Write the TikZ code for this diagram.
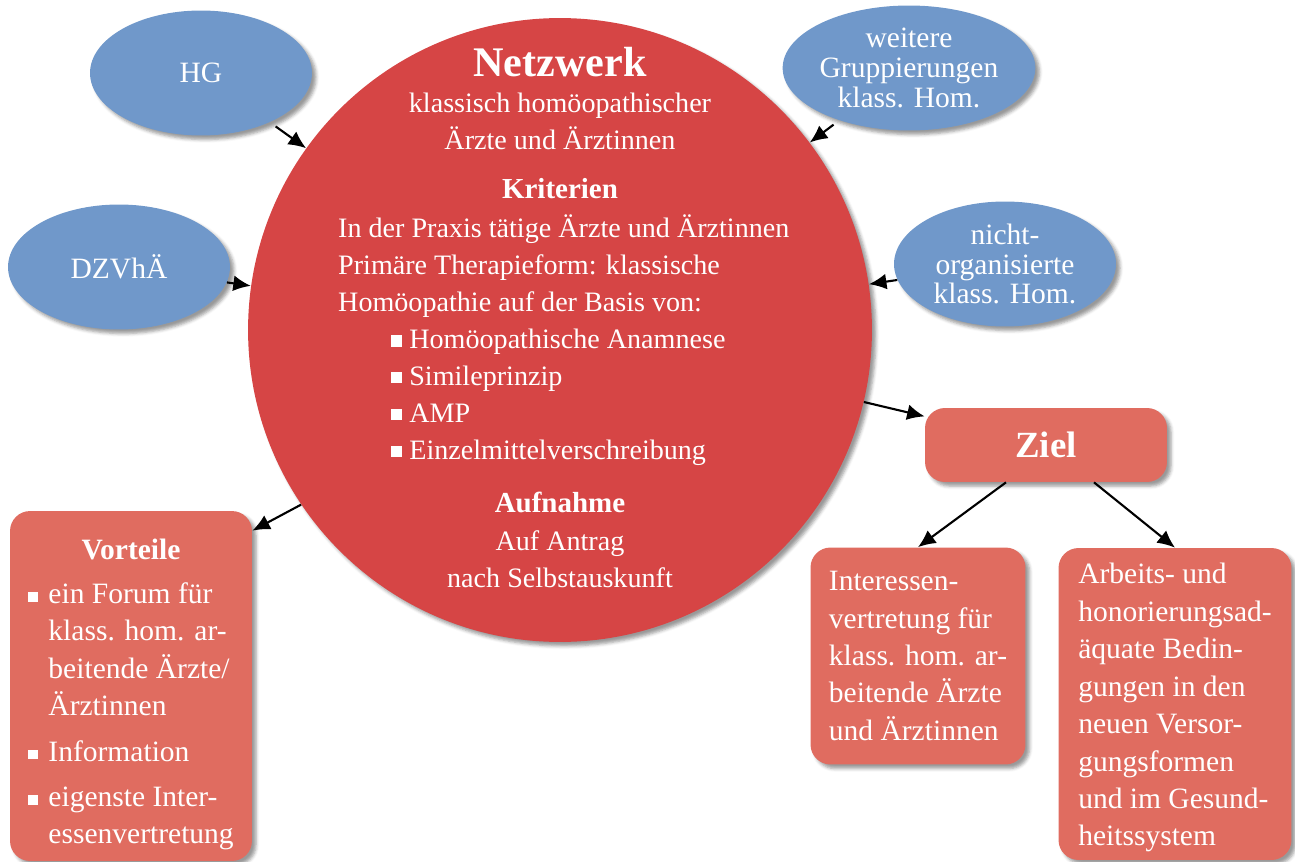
\documentclass[tikz,border=0pt]{standalone}
\usepackage{fontspec}
\setmainfont{Liberation Serif}
\usetikzlibrary{arrows.meta,positioning,shapes.geometric,shadows.blur}

\definecolor{netzrot}{HTML}{D64545}
\definecolor{kastenrot}{HTML}{E06C60}
\definecolor{gruppblau}{HTML}{7098CA}

\newcommand{\sqb}{\raisebox{1pt}{\rule{6.5pt}{6.5pt}}}
\newcommand{\sqs}{\raisebox{1pt}{\rule{5.5pt}{5.5pt}}}

\begin{document}
\begin{tikzpicture}[x=0.02cm, y=-0.02cm,
  every node/.style={text=white, font=\fontsize{16.8}{21.3}\selectfont},
  innen/.style={font=\fontsize{16}{21}\selectfont},
  kopf/.style={font=\fontsize{16.5}{21}\selectfont\bfseries},
  gruppe/.style={ellipse, fill=gruppblau, minimum width=4.44cm, minimum height=2.5cm, inner sep=0pt, align=center, blur shadow, font=\fontsize{16.8}{17}\selectfont},
  box/.style={rectangle, rounded corners=0.4cm, fill=kastenrot, blur shadow, align=left},
  arrow/.style={-{Latex[length=10pt,width=9pt]}, line width=1.2pt, black}]

\useasboundingbox (0,0) rectangle (1295,862);

% Netzwerk
\node[circle, fill=netzrot, minimum size=12.48cm, blur shadow] (net) at (560,330) {};
\node[font=\fontsize{24}{28}\selectfont\bfseries] (titel) at (560,62) {Netzwerk};
\node[innen, align=center] (netz) at (560,121) {klassisch homöopathischer\\Ärzte und Ärztinnen};
\node[kopf] (krit) at (560,189) {Kriterien};
\node[innen, align=left, anchor=west] (kritliste) at (332,340) {In der Praxis tätige Ärzte und Ärztinnen\\
  Primäre Therapieform: klassische\\
  Homöopathie auf der Basis von:\\
  \hspace*{30pt}\sqb\ Homöopathische Anamnese\\
  \hspace*{30pt}\sqb\ Simileprinzip\\
  \hspace*{30pt}\sqb\ AMP\\
  \hspace*{30pt}\sqb\ Einzelmittelverschreibung};
\node[kopf] (aufn) at (560,502) {Aufnahme};
\node[innen, align=center] (antrag) at (560,559) {Auf Antrag\\nach Selbstauskunft};

% Gruppierungen
\node[gruppe] (hg) at (201,73) {HG};
\node[gruppe] (dzvhae) at (119,267) {DZVhÄ};
\node[gruppe] (weitere) at (909,68) {weitere\\Gruppierungen\\klass. Hom.};
\node[gruppe] (nichtorg) at (1005,264) {nicht-\\organisierte\\klass. Hom.};

% Vorteile und Ziel
\node[box, minimum width=4.84cm, minimum height=6.94cm] (vorteile) at (131,686) {%
  \begin{tabular}{@{}l@{\hspace{6pt}}l@{}}
  \multicolumn{2}{@{}c@{}}{\rule{0pt}{24pt}\bfseries Vorteile}\\[4pt]
  \sqs & ein Forum für\\
       & klass. hom. ar-\\
       & beitende Ärzte/\\
       & Ärztinnen\\[4.5pt]
  \sqs & Information\\[4.5pt]
  \sqs & eigenste Inter-\\
       & essenvertretung
  \end{tabular}};
\node[box, minimum width=4.84cm, minimum height=1.48cm, font=\fontsize{21}{25}\selectfont\bfseries] (ziel) at (1046,445) {Ziel};
\node[box, minimum width=4.3cm, minimum height=4.34cm] (interessen) at (918,656) {Interessen-\\vertretung für\\klass. hom. ar-\\beitende Ärzte\\und Ärztinnen};
\node[box, minimum width=4.66cm, minimum height=6.24cm] (arbeits) at (1175,704) {\rule{0pt}{16pt}Arbeits- und\\honorierungsad-\\äquate Bedin-\\gungen in den\\neuen Versor-\\gungsformen\\und im Gesund-\\heitssystem};

\draw[arrow, shorten <=4pt] (hg) -- (net);
\draw[arrow] (dzvhae) -- (net);
\draw[arrow, shorten <=4pt] (weitere) -- (net);
\draw[arrow] (nichtorg) -- (net);
\draw[arrow] (net) -- (ziel);
\draw[arrow] (net.214) -- (vorteile.52);
\draw[arrow] ([xshift=-0.8cm]ziel.south) -- (interessen.north);
\draw[arrow] ([xshift=0.96cm]ziel.south) -- (arbeits.north);

\end{tikzpicture}
\end{document}
